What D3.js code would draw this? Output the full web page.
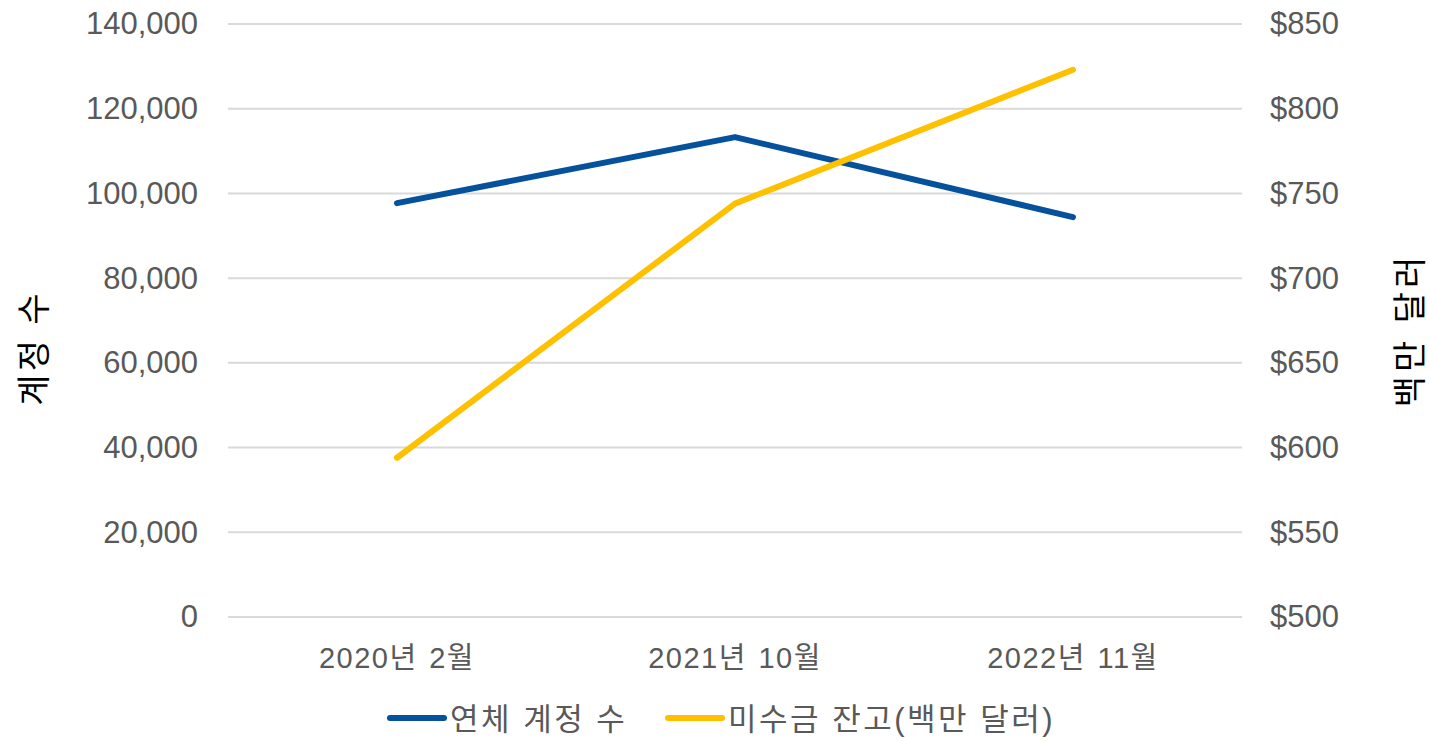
<!DOCTYPE html>
<html>
<head>
<meta charset="utf-8">
<script src="https://cdn.jsdelivr.net/npm/d3@7"></script>
<style>
  body { margin: 0; background: #fff; }
  text { font-family: "Liberation Sans", Arial, "Noto Sans CJK KR", sans-serif; }
</style>
</head>
<body>
<div id="chart"></div>
<script>
// chart data
const categories = ["2020년 2월", "2021년 10월", "2022년 11월"];
const overdueAccounts = [97700, 113300, 94400];
const balanceMillions = [594, 744, 823];
const leftTicks = [0, 20000, 40000, 60000, 80000, 100000, 120000, 140000];
const rightTicks = [500, 550, 600, 650, 700, 750, 800, 850];
const seriesNames = ["연체 계정 수", "미수금 잔고(백만 달러)"];
const colors = ["#06519C", "#FFC000"];

const width = 1429, height = 741;
const margin = { top: 24, right: 187, bottom: 124, left: 228 };

const svg = d3.select("#chart")
  .append("svg")
  .attr("width", width)
  .attr("height", height);

const x = d3.scaleBand()
  .domain(categories)
  .range([margin.left, width - margin.right]);

const yLeft = d3.scaleLinear()
  .domain([0, 140000])
  .range([height - margin.bottom, margin.top]);

const yRight = d3.scaleLinear()
  .domain([500, 850])
  .range([height - margin.bottom, margin.top]);

// gridlines
svg.append("g")
  .selectAll("line")
  .data(leftTicks)
  .enter()
  .append("line")
  .attr("x1", margin.left)
  .attr("x2", width - margin.right)
  .attr("y1", d => yLeft(d))
  .attr("y2", d => yLeft(d))
  .attr("stroke", "#d9d9d9")
  .attr("stroke-width", 2);

// left axis
const leftAxis = svg.append("g")
  .attr("transform", `translate(${margin.left},0)`)
  .call(d3.axisLeft(yLeft).tickValues(leftTicks).tickSize(0).tickPadding(30)
    .tickFormat(d3.format(",")));
leftAxis.select(".domain").remove();
leftAxis.selectAll("text")
  .style("font-size", "31px")
  .attr("fill", "#595959");

// right axis
const rightAxis = svg.append("g")
  .attr("transform", `translate(${width - margin.right},0)`)
  .call(d3.axisRight(yRight).tickValues(rightTicks).tickSize(0).tickPadding(28)
    .tickFormat(d => "$" + d));
rightAxis.select(".domain").remove();
rightAxis.selectAll("text")
  .style("font-size", "31px")
  .attr("fill", "#595959");

// bottom axis
const bottomAxis = svg.append("g")
  .attr("transform", `translate(0,${height - margin.bottom})`)
  .call(d3.axisBottom(x).tickSize(0).tickPadding(30));
bottomAxis.select(".domain").remove();
bottomAxis.selectAll("text")
  .style("font-size", "29px")
  .style("letter-spacing", "1.5px")
  .style("word-spacing", "2px")
  .attr("fill", "#595959");

// axis titles
svg.append("text")
  .attr("transform", `translate(46,348) rotate(-90)`)
  .attr("text-anchor", "middle")
  .style("font-size", "34px")
  .style("letter-spacing", "3px")
  .attr("fill", "#000")
  .text("계정 수");

svg.append("text")
  .attr("transform", `translate(1422,330) rotate(-90)`)
  .attr("text-anchor", "middle")
  .style("font-size", "34px")
  .style("letter-spacing", "4px")
  .attr("fill", "#000")
  .text("백만 달러");

// lines
const lineLeft = d3.line()
  .x((d, i) => x(categories[i]) + x.bandwidth() / 2)
  .y(d => yLeft(d));
const lineRight = d3.line()
  .x((d, i) => x(categories[i]) + x.bandwidth() / 2)
  .y(d => yRight(d));

svg.append("path")
  .datum(overdueAccounts)
  .attr("d", lineLeft)
  .attr("fill", "none")
  .attr("stroke", colors[0])
  .attr("stroke-width", 6)
  .attr("stroke-linecap", "round")
  .attr("stroke-linejoin", "round");

svg.append("path")
  .datum(balanceMillions)
  .attr("d", lineRight)
  .attr("fill", "none")
  .attr("stroke", colors[1])
  .attr("stroke-width", 6)
  .attr("stroke-linecap", "round")
  .attr("stroke-linejoin", "round");

// legend
const legendX = [390, 668];
const legend = svg.append("g");
legend.selectAll("line")
  .data(seriesNames)
  .enter()
  .append("line")
  .attr("x1", (d, i) => legendX[i])
  .attr("x2", (d, i) => legendX[i] + 54)
  .attr("y1", 718)
  .attr("y2", 718)
  .attr("stroke", (d, i) => colors[i])
  .attr("stroke-width", 6)
  .attr("stroke-linecap", "round");
legend.selectAll("text")
  .data(seriesNames)
  .enter()
  .append("text")
  .attr("x", (d, i) => legendX[i] + 60)
  .attr("y", 730)
  .style("font-size", "31px")
  .style("letter-spacing", "2.5px")
  .attr("fill", "#595959")
  .text(d => d);
</script>
</body>
</html>
